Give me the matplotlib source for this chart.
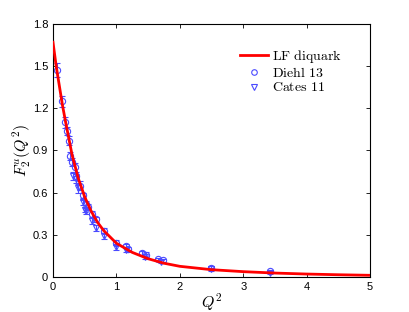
import numpy as np
import matplotlib
matplotlib.use('Agg')
import matplotlib.pyplot as plt
from matplotlib.lines import Line2D

plt.rcParams['mathtext.fontset'] = 'cm'
plt.rcParams['font.family'] = ['Liberation Sans', 'DejaVu Sans']

# LF diquark curve
q2_fit = [0.0, 0.05, 0.1, 0.15, 0.2, 0.3, 0.4, 0.5, 0.6, 0.7, 0.8, 1.0, 1.25,
          1.5, 1.75, 2.0, 2.5, 3.0, 3.5, 4.0, 4.5, 5.0]
f2_fit = [1.67, 1.50, 1.36, 1.22, 1.10, 0.87, 0.70, 0.57, 0.47, 0.39, 0.33, 0.24,
          0.175, 0.13, 0.098, 0.076, 0.052, 0.038, 0.028, 0.021, 0.016, 0.012]

# Diehl 13
q2_diehl = [0.07, 0.14, 0.19, 0.22, 0.25, 0.27, 0.30, 0.34, 0.37, 0.42, 0.47, 0.52,
            0.55, 0.62, 0.68, 0.80, 1.00, 1.15, 1.18, 1.41, 1.46, 1.65, 1.73, 2.50, 3.42]
f2_diehl = [1.47, 1.25, 1.10, 1.04, 0.97, 0.86, 0.82, 0.78, 0.72, 0.65, 0.58, 0.52,
            0.50, 0.45, 0.41, 0.33, 0.245, 0.22, 0.20, 0.17, 0.16, 0.125, 0.12, 0.065, 0.04]
err_diehl = [0.05, 0.04, 0.04, 0.03, 0.03, 0.03, 0.03, 0.03, 0.03, 0.03, 0.02, 0.02,
             0.02, 0.02, 0.02, 0.02, 0.02, 0.015, 0.015, 0.015, 0.015, 0.01, 0.01, 0.01, 0.01]

# Cates 11
q2_cates = [0.32, 0.36, 0.40, 0.47, 0.50, 0.52, 0.62, 0.68, 0.80, 1.00, 1.15, 1.45,
            1.70, 2.50, 3.42]
f2_cates = [0.72, 0.70, 0.63, 0.53, 0.48, 0.47, 0.40, 0.35, 0.29, 0.21, 0.19, 0.14,
            0.11, 0.055, 0.03]
err_cates = [0.03, 0.03, 0.03, 0.02, 0.02, 0.02, 0.02, 0.02, 0.02, 0.015, 0.015, 0.01,
             0.01, 0.01, 0.01]

blue = '#4a4aff'

fig = plt.figure(figsize=(4.09, 3.12), dpi=100)
ax = fig.add_axes([0.1296, 0.1122, 0.775, 0.811])

ax.errorbar(q2_diehl, f2_diehl, yerr=err_diehl, fmt='o', mfc='none', mec=blue,
            ecolor=blue, ms=4.5, mew=0.8, elinewidth=0.8, capsize=2, zorder=2)
ax.errorbar(q2_cates, f2_cates, yerr=err_cates, fmt='v', mfc='none', mec=blue,
            ecolor=blue, ms=4.5, mew=0.8, elinewidth=0.8, capsize=2, zorder=2)
ax.plot(q2_fit, f2_fit, '-', color='red', lw=2.0, zorder=3)

ax.set_xlim(0, 5)
ax.set_ylim(0, 1.8)
ax.set_xticks([0, 1, 2, 3, 4, 5])
ax.set_yticks([0, 0.3, 0.6, 0.9, 1.2, 1.5, 1.8])
ax.set_yticklabels(['0', '0.3', '0.6', '0.9', '1.2', '1.5', '1.8'])
ax.tick_params(direction='in', top=True, right=True, labelsize=8, length=3, width=0.6)
for s in ax.spines.values():
    s.set_linewidth(0.8)

ax.set_xlabel(r'$Q^2$', fontsize=11.5, labelpad=0)
ax.set_ylabel(r'$F_2^u(Q^2)$', fontsize=11.5, labelpad=0)

handles = [Line2D([], [], color='red', lw=2.0),
           Line2D([], [], ls='none', marker='o', mfc='none', mec=blue, ms=4, mew=0.8),
           Line2D([], [], ls='none', marker='v', mfc='none', mec=blue, ms=4, mew=0.8)]
labels = [r'$\mathrm{LF\ diquark}$', r'$\mathrm{Diehl\ 13}$', r'$\mathrm{Cates\ 11}$']
ax.legend(handles, labels, loc='upper left', bbox_to_anchor=(0.59, 0.905),
          frameon=False, fontsize=10, handlelength=2.0, borderaxespad=0,
          labelspacing=0.05, handletextpad=0.3, borderpad=0)

plt.savefig('out.png', dpi=100)
